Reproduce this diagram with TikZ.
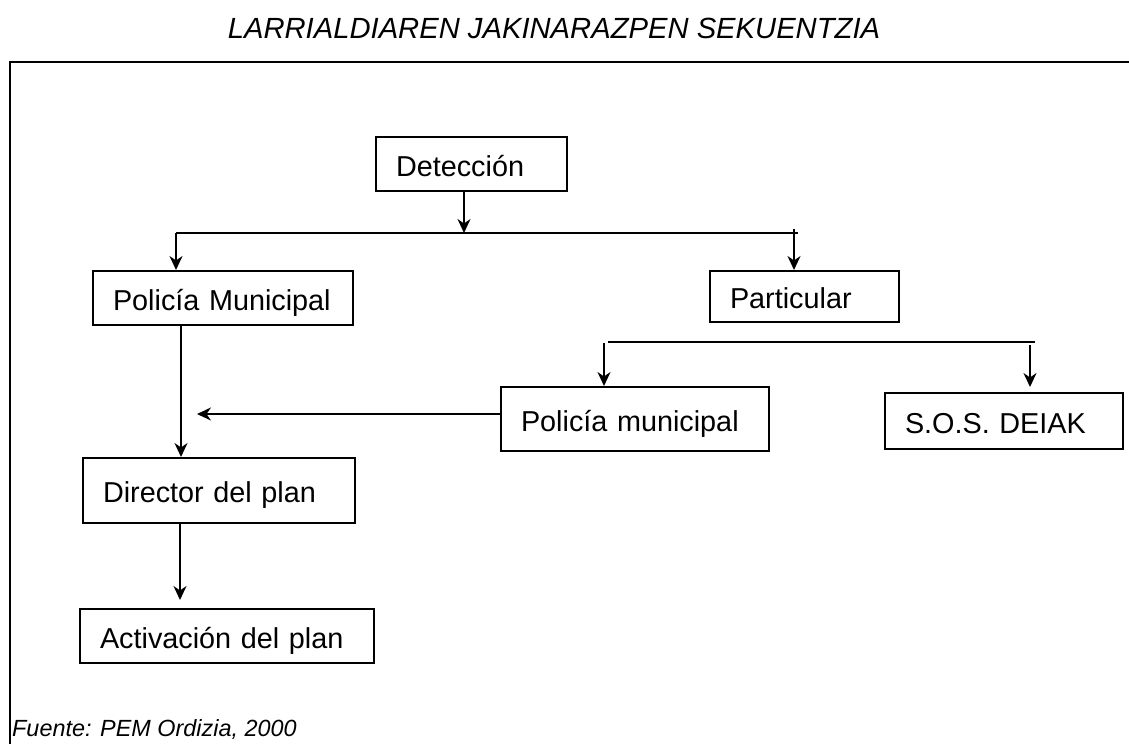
\documentclass[tikz,border=0pt]{standalone}
\usepackage{fontspec}
\setmainfont{Liberation Sans}
\usetikzlibrary{arrows.meta}
\begin{document}
\begin{tikzpicture}[x=1pt,y=-1pt,
  box/.style={draw, line width=2pt, rectangle, anchor=north west, align=left,
    inner xsep=20pt, inner ysep=0pt, text height=24pt, text depth=0pt,
    font=\fontsize{28.8}{34}\selectfont},
  conn/.style={line width=2pt},
  arr/.style={line width=2pt, -{Stealth[length=14pt,width=13pt,inset=4.5pt]}}]
\useasboundingbox (0,0) rectangle (1129,744);
% title
\node[anchor=base, inner sep=0pt, font=\itshape\fontsize{29.2}{34}\selectfont] (title) at (554,38) {LARRIALDIAREN JAKINARAZPEN SEKUENTZIA};
% frame
\draw[conn] (1129,62) -- (10,62) -- (10,744);
% boxes
\node[box, text width=151pt, minimum height=54pt] (det)  at (375,136) {Detección};
\node[box, text width=220pt, minimum height=54pt] (pm)   at (92,270)  {Policía Municipal};
\node[box, text width=149pt, minimum height=51pt] (part) at (709,270) {Particular};
\node[box, text width=228pt, minimum height=64pt] (pmun) at (500,386) {Policía municipal};
\node[box, text width=198pt, minimum height=56pt] (sos)  at (884,392) {S.O.S. DEIAK};
\node[box, text width=232pt, minimum height=65pt] (dir)  at (82,457)  {Director del plan};
\node[box, text width=254pt, minimum height=54pt] (act)  at (79,608)  {Activación del plan};
% source
\node[anchor=base west, inner sep=0pt, font=\itshape\fontsize{23.4}{27}\selectfont] (src) at (12,736) {Fuente: PEM Ordizia, 2000};
% connectors
\coordinate (j1) at (464,233);
\coordinate (hl) at (176,233);
\coordinate (hr) at (798,233);
\coordinate (pr) at (794,229);
\draw[arr] (det.south -| j1) -- (j1);
\draw[conn] (hl) -- (hr);
\draw[arr] (hl) -- (hl |- pm.north);
\draw[arr] (pr) -- (pr |- part.north);
\coordinate (l2l) at (608,342);
\coordinate (l2r) at (1035,342);
\coordinate (a1) at (604,343);
\coordinate (a2) at (1030,345);
\draw[conn] (l2l) -- (l2r);
\draw[arr] (a1) -- (a1 |- pmun.north);
\draw[arr, shorten >=5pt] (a2) -- (a2 |- sos.north);
\coordinate (hx) at (197,414);
\draw[arr] (pmun.west |- hx) -- (hx);
\coordinate (v1) at (181,324);
\draw[arr] (pm.south -| v1) -- (v1 |- dir.north);
\coordinate (v2) at (180,522);
\draw[arr, shorten >=8pt] (dir.south -| v2) -- (v2 |- act.north);
\end{tikzpicture}
\end{document}
